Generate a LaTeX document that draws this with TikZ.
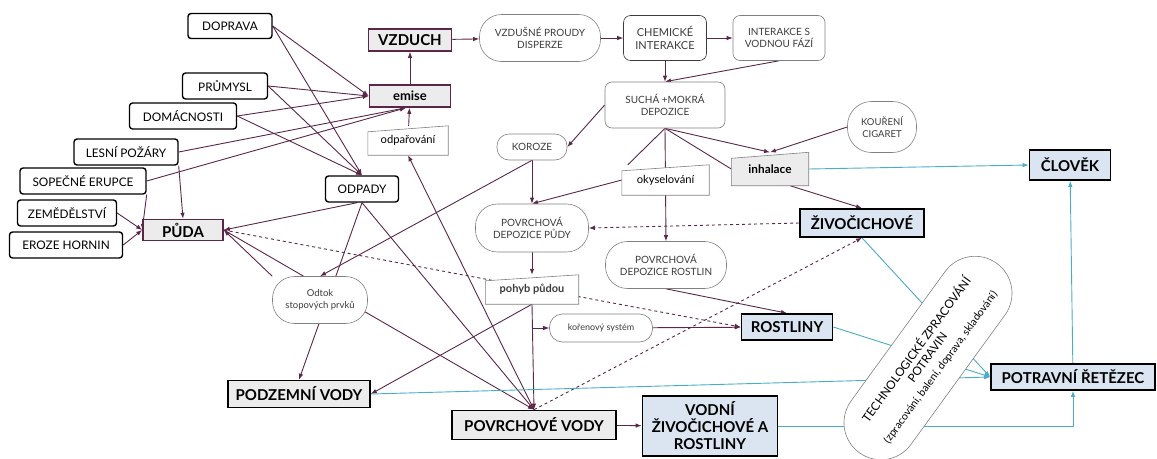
\documentclass[tikz,border=0pt]{standalone}
\usepackage{fontspec}
\setmainfont{Lato}
\usepackage{tikz}
\usepackage{xcolor}
\usetikzlibrary{arrows.meta}

\definecolor{vinova}{RGB}{92,38,72}
\definecolor{seda}{RGB}{236,236,236}
\definecolor{modra}{RGB}{219,229,241}
\definecolor{modralinka}{RGB}{75,172,198}
\definecolor{sedalinka}{RGB}{128,128,128}
\definecolor{tmava}{RGB}{60,60,60}

\pgfdeclarelayer{edges}
\pgfdeclarelayer{slant}
\pgfsetlayers{edges,slant,main}

\begin{document}
\begin{tikzpicture}[x=1pt,y=-1pt,inner sep=1pt,
    size/.style 2 args={minimum width=#1,minimum height=#2},
    zdroj/.style={draw=black,line width=1.4pt,rounded corners=3pt,fill=white,font=\fontsize{11.8}{13}\selectfont},
    medium/.style={draw=vinova,line width=1.6pt,fill=seda,font=\bfseries\fontsize{15}{17}\selectfont},
    voda/.style={draw=black,line width=1.6pt,fill=seda,font=\bfseries\fontsize{15}{17}\selectfont},
    biota/.style={draw=black,line width=1.6pt,fill=modra,font=\bfseries\fontsize{15}{17}\selectfont,align=center},
    proces/.style={draw=sedalinka,line width=0.6pt,fill=white,text=tmava,align=center,font=\fontsize{10}{12.5}\selectfont},
    pill/.style={proces,rounded corners=#1},
    sikmy/.style={font=\fontsize{11.2}{13}\selectfont},
    linka/.style={vinova,line width=0.9pt},
    sipka/.style={linka,-{Latex[length=6pt,width=4.5pt]}},
    carka/.style={sipka,dashed},
    modrasipka/.style={modralinka,line width=0.9pt,-{Latex[length=6pt,width=4.5pt]}}]
  \useasboundingbox (0,0) rectangle (1157,458);

  % zdroje
  \node[zdroj,size={84pt}{25pt}] (doprava) at (230,26) {DOPRAVA};
  \node[zdroj,size={85pt}{26pt}] (prumysl) at (225,86) {PRŮMYSL};
  \node[zdroj,size={107pt}{26pt}] (domacnosti) at (183,116) {DOMÁCNOSTI};
  \node[zdroj,size={104pt}{26pt}] (pozary) at (126,152) {LESNÍ POŽÁRY};
  \node[zdroj,size={126pt}{26pt}] (erupce) at (83,181) {SOPEČNÉ ERUPCE};
  \node[zdroj,size={99pt}{26pt}] (zemed) at (67,213) {ZEMĚDĚLSTVÍ};
  \node[zdroj,size={113pt}{26pt}] (eroze) at (66,245) {EROZE HORNIN};
  \node[zdroj,size={73pt}{26pt}] (odpady) at (362,189) {ODPADY};

  % slozky prostredi
  \node[medium,size={80pt}{21pt}] (puda) at (183,230) {PŮDA};
  \node[medium,size={83pt}{22pt}] (vzduch) at (410,40) {VZDUCH};
  \node[medium,size={81pt}{22pt},font=\bfseries\fontsize{13}{15}\selectfont] (emise) at (410,96) {emise};
  \node[voda,size={142pt}{27pt}] (podzemni) at (299,394) {PODZEMNÍ VODY};
  \node[voda,size={164pt}{29pt}] (povrchove) at (534,425) {POVRCHOVÉ VODY};

  % procesy
  \node[pill=22pt,size={121pt}{47pt}] (proudy) at (540,38) {VZDUŠNÉ PROUDY\\DISPERZE};
  \node[proces,draw=tmava,rounded corners=7pt,size={83pt}{45pt},font=\fontsize{11}{13}\selectfont] (chemicke) at (665,38) {CHEMICKÉ\\INTERAKCE};
  \node[proces,rounded corners=7pt,size={92pt}{45pt}] (vodnifaze) at (779,38) {INTERAKCE S\\VODNOU FÁZÍ};
  \node[proces,rounded corners=7pt,size={120pt}{46pt}] (depozice) at (665,105) {SUCHÁ +MOKRÁ\\DEPOZICE};
  \node[pill=12pt,size={70pt}{26pt}] (koroze) at (532,147) {KOROZE};
  \node[pill=24pt,size={69pt}{51pt},font=\fontsize{9.5}{11.5}\selectfont] (koureni) at (882,127) {KOUŘENÍ\\CIGARET};
  \node[pill=22pt,size={113pt}{48pt}] (deppuda) at (532,228) {POVRCHOVÁ\\DEPOZICE PŮDY};
  \node[pill=22pt,size={121pt}{47pt}] (deprost) at (666,265) {POVRCHOVÁ\\DEPOZICE ROSTLIN};
  \node[pill=22pt,size={95pt}{47pt},font=\fontsize{9.5}{12}\selectfont] (odtok) at (320,300) {Odtok\\stopových prvků};
  \node[pill=13pt,size={103pt}{28pt},font=\fontsize{9}{10}\selectfont] (koren) at (601,328) {kořenový systém};

  % sikme stitky
  \node[sikmy,size={80pt}{29pt}] (odparovani) at (408,140.5) {\raisebox{-3pt}{odpařování}};
  \node[sikmy,size={87pt}{30pt}] (okyselovani) at (665.5,180) {\raisebox{-3pt}{okyselování}};
  \node[sikmy,size={93pt}{29pt},font=\bfseries\fontsize{11}{13}\selectfont,text=tmava] (pohyb) at (532,289.5) {\raisebox{-3pt}{pohyb půdou}};
  \node[sikmy,size={77pt}{33pt},font=\bfseries\fontsize{11.8}{13}\selectfont] (inhalace) at (770,169) {\raisebox{-3pt}{inhalace}};

  % organismy
  \node[biota,size={124pt}{28pt}] (zivocichove) at (862,223) {ŽIVOČICHOVÉ};
  \node[biota,size={91pt}{26pt}] (rostliny) at (787,327) {ROSTLINY};
  \node[biota,size={135pt}{60pt}] (vodni) at (710,426) {VODNÍ\\ŽIVOČICHOVÉ A\\ROSTLINY};
  \node[biota,size={81pt}{30pt}] (clovek) at (1070,165) {ČLOVĚK};
  \node[biota,size={164pt}{26pt}] (retezec) at (1073,377) {POTRAVNÍ ŘETĚZEC};
  \node[pill=37pt,rotate=54,size={234pt}{74pt},text=black,font=\fontsize{11.8}{13.5}\selectfont] (technologie) at (928,358)
    {TECHNOLOGICKÉ ZPRACOVÁNÍ\\POTRAVIN\\[2pt]{\fontsize{10.6}{13}\selectfont(zpracování, balení, doprava, skladování)}};

  \begin{pgfonlayer}{slant}
    \foreach \n/\c in {odparovani/white,okyselovani/white,pohyb/white,inhalace/seda}
      \draw[sedalinka,line width=0.6pt,fill=\c] (\n.south west) -- (\n.south east) -- (\n.north east)
        -- ([yshift=-6pt]\n.north west) -- cycle;
  \end{pgfonlayer}

  \begin{pgfonlayer}{edges}
    \draw[sipka] (doprava.east) -- (emise.west);
    \draw[sipka] (doprava.east) -- (odpady.north);
    \draw[sipka] (prumysl.east) -- (emise.west);
    \draw[sipka] (prumysl.east) -- (odpady.north);
    \draw[sipka] (domacnosti.east) -- (emise.west);
    \draw[sipka] (domacnosti.east) -- (odpady.north);
    \draw[sipka] (pozary.east) -- ([xshift=-4pt]emise.south);
    \draw[sipka] (erupce.east) -- ([xshift=-4pt]emise.south);
    \draw[sipka] (pozary.south east) -- (puda.north);
    \draw[sipka] (erupce.south east) -- (puda.west);
    \draw[sipka] (zemed.east) -- (puda.west);
    \draw[sipka] (eroze.east) -- (puda.west);

    \draw[sipka] (emise) -- (vzduch);
    \draw[sipka] (odparovani) -- (emise);
    \draw[sipka] (vzduch) -- (proudy);
    \draw[sipka] (proudy) -- (chemicke);
    \draw[sipka] (chemicke) -- (vodnifaze);
    \draw[sipka] (chemicke) -- (depozice);
    \draw[sipka] (vodnifaze.south) -- (depozice.north);
    \draw[sipka] (depozice.west) -- (koroze.east);
    \draw[linka] (depozice.south) -- ([xshift=6pt]okyselovani.north west);
    \draw[sipka] (depozice.south) -- (deprost.north);
    \draw[linka] (depozice.south) -- (inhalace.west);
    \draw[sipka] (depozice.south) -- (inhalace.north);
    \draw[sipka] (koureni.west) -- (inhalace.north);
    \draw[sipka] ([xshift=20pt]inhalace.south) -- (zivocichove.north);
    \draw[sipka] (okyselovani.west) -- (deppuda.north);
    \draw[sipka] (koroze.south) -- (deppuda.north);
    \draw[sipka] (koroze.south) -- (odtok.north);

    \draw[sipka] ([xshift=-5pt]odpady.south) -- (puda.east);
    \draw[sipka] (odpady.south) -- (podzemni.north);
    \draw[sipka] (odpady.south) -- (povrchove.north);
    \draw[sipka] (odtok.north west) -- (puda.east);
    \draw[sipka] (puda.east) -- (povrchove.north);
    \draw[sipka] (povrchove.north) -- (odparovani.south);
    \draw[sipka] (deppuda) -- (pohyb);
    \draw[sipka] (pohyb.south) -- (povrchove.north);
    \draw[sipka] (pohyb.south) -- (podzemni.east);
    \draw[sipka] (pohyb.south |- koren.west) -- (koren.west);
    \draw[sipka] (koren) -- (rostliny);
    \draw[sipka] (deprost.south) -- (rostliny.north);
    \draw[sipka] (povrchove) -- (vodni);

    \draw[carka] (zivocichove.west) -- (deppuda.east);
    \draw[carka] (povrchove.north) -- (zivocichove.south);
    \draw[carka] (puda.east) -- (rostliny.west);

    \draw[modrasipka] (inhalace.east) -- (clovek.west);
    \draw[modrasipka] (zivocichove.south) -- (retezec.west);
    \draw[modrasipka] (rostliny.east) -- (retezec.west);
    \draw[modrasipka] (podzemni.east) -- (retezec.west);
    \draw[modrasipka] (vodni.east) -| (retezec.south);
    \draw[modrasipka] (retezec) -- (clovek);
  \end{pgfonlayer}
\end{tikzpicture}
\end{document}
